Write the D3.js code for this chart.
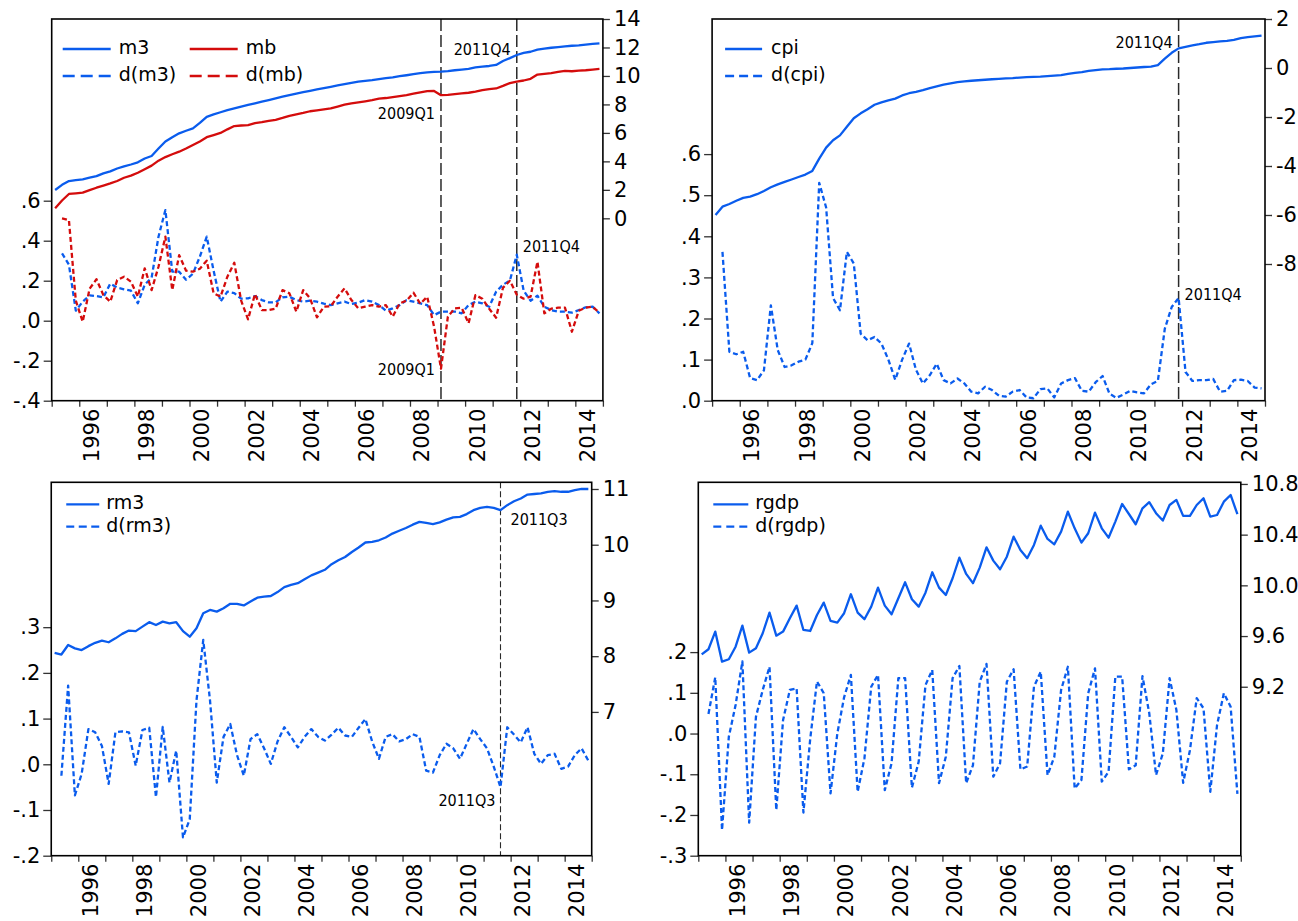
<!DOCTYPE html>
<html>
<head>
<meta charset="utf-8">
<script src="https://cdn.jsdelivr.net/npm/d3@7"></script>
<style>
  body { margin: 0; background: #fff; }
  svg { display: block; background: #fff; }
  .tick text { font-family: "DejaVu Sans", Verdana, sans-serif; fill: #000; }
  .legend text { font-family: "DejaVu Sans", Verdana, sans-serif; fill: #000; }
  .marker-label { font-family: "DejaVu Sans Condensed", "DejaVu Sans", sans-serif; fill: #000; }
</style>
</head>
<body>
<svg id="chart" width="1298" height="921"></svg>
<script>
// quarterly data, 1995Q1 .. 2014Q4 (80 quarters); d(...) series start in 1995Q2
const startYear = 1995;
const tickYears = [1995, 1996, 1997, 1998, 1999, 2000, 2001, 2002, 2003, 2004, 2005,
                   2006, 2007, 2008, 2009, 2010, 2011, 2012, 2013, 2014, 2015];
const labelYears = [1996, 1998, 2000, 2002, 2004, 2006, 2008, 2010, 2012, 2014];

const m3 = [1.99, 2.35, 2.62, 2.68, 2.74, 2.85, 2.96, 3.16, 3.30, 3.50,
            3.65, 3.78, 3.93, 4.20, 4.38, 4.90, 5.40, 5.70, 5.97, 6.15,
            6.32, 6.70, 7.13, 7.30, 7.45, 7.60, 7.72, 7.85, 7.96, 8.08,
            8.20, 8.31, 8.43, 8.55, 8.66, 8.76, 8.86, 8.96, 9.05, 9.15,
            9.24, 9.33, 9.42, 9.52, 9.60, 9.66, 9.71, 9.78, 9.84, 9.90,
            9.98, 10.05, 10.13, 10.20, 10.25, 10.28, 10.30, 10.34, 10.40, 10.45,
            10.50, 10.60, 10.65, 10.70, 10.77, 11.05, 11.25, 11.47, 11.62, 11.70,
            11.85, 11.92, 11.98, 12.03, 12.08, 12.12, 12.15, 12.20, 12.25, 12.29];
const mb = [0.70, 1.25, 1.71, 1.75, 1.80, 1.98, 2.15, 2.30, 2.45, 2.62,
            2.85, 3.00, 3.20, 3.45, 3.70, 4.05, 4.30, 4.50, 4.68, 4.90,
            5.15, 5.40, 5.70, 5.85, 6.00, 6.25, 6.48, 6.52, 6.55, 6.68,
            6.75, 6.85, 6.92, 7.05, 7.20, 7.30, 7.40, 7.52, 7.58, 7.65,
            7.72, 7.85, 7.98, 8.08, 8.15, 8.22, 8.30, 8.40, 8.45, 8.52,
            8.58, 8.65, 8.75, 8.85, 8.93, 8.95, 8.65, 8.67, 8.73, 8.77,
            8.82, 8.90, 9.00, 9.08, 9.12, 9.30, 9.50, 9.60, 9.68, 9.80,
            10.10, 10.15, 10.20, 10.28, 10.36, 10.33, 10.37, 10.40, 10.45, 10.49];
const dm3 = [null, .337, .28, .05, .095, .127, .123, .117, .185, .165,
             .157, .15, .087, .18, .215, .42, .553, .245, .245, .205,
             .235, .32, .42, .25, .095, .145, .138, .11, .112, .123,
             .103, .092, .092, .117, .12, .103, .095, .10, .095, .085,
             .078, .087, .095, .083, .09, .103, .095, .078, .05, .062,
             .078, .103, .095, .087, .078, .028, .045, .045, .045, .037,
             .078, .095, .087, .07, .145, .18, .20, .33, .15, .10,
             .125, .07, .053, .045, .045, .04, .053, .067, .07, .037];
const dmb = [null, .512, .503, .10, -.005, .16, .207, .128, .095, .203,
             .22, .195, .12, .262, .153, .27, .42, .153, .328, .25,
             .245, .26, .30, .137, .12, .22, .29, .10, .007, .133,
             .053, .053, .06, .153, .137, .045, .153, .112, .017, .07,
             .072, .12, .162, .103, .062, .07, .078, .07, .078, .02,
             .087, .10, .14, .085, .12, -.03, -.24, .02, .062, .065,
             -.013, .128, .11, .06, .015, .165, .20, .13, .11, .12,
             .295, .037, .06, .065, .065, -.055, .05, .065, .07, .04];

const cpi = [-6.00, -5.66, -5.55, -5.42, -5.30, -5.25, -5.15, -5.02, -4.87, -4.75,
             -4.65, -4.55, -4.45, -4.35, -4.20, -3.70, -3.25, -2.95, -2.75, -2.40,
             -2.05, -1.85, -1.68, -1.50, -1.40, -1.32, -1.25, -1.12, -1.03, -0.97,
             -0.90, -0.82, -0.75, -0.68, -0.63, -0.58, -0.55, -0.52, -0.50, -0.48,
             -0.46, -0.44, -0.42, -0.41, -0.39, -0.37, -0.36, -0.35, -0.33, -0.31,
             -0.29, -0.24, -0.20, -0.17, -0.12, -0.09, -0.06, -0.05, -0.03, -0.02,
             0.00, 0.02, 0.04, 0.06, 0.12, 0.38, 0.62, 0.80, 0.86, 0.92,
             0.97, 1.03, 1.06, 1.09, 1.11, 1.15, 1.22, 1.26, 1.29, 1.32];
const dcpi = [null, .362, .119, .113, .119, .055, .05, .074, .232, .123,
              .082, .086, .095, .10, .14, .53, .47, .25, .22, .362,
              .334, .163, .147, .155, .139, .10, .051, .10, .139, .075,
              .042, .062, .09, .05, .042, .054, .042, .022, .018, .034,
              .026, .012, .01, .022, .026, .008, .006, .028, .03, .008,
              .042, .05, .055, .024, .022, .045, .06, .017, .007, .015,
              .024, .02, .018, .04, .048, .175, .228, .25, .07, .048,
              .05, .05, .053, .022, .024, .05, .051, .048, .032, .03];

const rm3 = [8.06, 8.03, 8.20, 8.14, 8.11, 8.18, 8.24, 8.28, 8.25, 8.32,
             8.40, 8.46, 8.45, 8.53, 8.61, 8.56, 8.62, 8.59, 8.61, 8.45,
             8.35, 8.50, 8.77, 8.83, 8.80, 8.86, 8.94, 8.94, 8.91, 8.98,
             9.05, 9.07, 9.08, 9.15, 9.24, 9.28, 9.31, 9.38, 9.45, 9.50,
             9.55, 9.65, 9.72, 9.78, 9.87, 9.95, 10.04, 10.05, 10.08, 10.13,
             10.20, 10.25, 10.30, 10.36, 10.41, 10.39, 10.37, 10.40, 10.45, 10.49,
             10.50, 10.55, 10.62, 10.66, 10.68, 10.66, 10.62, 10.71, 10.78, 10.83,
             10.90, 10.91, 10.92, 10.95, 10.96, 10.95, 10.95, 10.98, 11.00, 11.00];
const drm3 = [null, -.025, .172, -.068, -.021, .077, .07, .04, -.043, .07,
              .072, .07, -.003, .075, .08, -.072, .082, -.04, .03, -.16,
              -.12, .14, .272, .14, -.04, .06, .088, .02, -.025, .055,
              .066, .035, .001, .05, .081, .06, .037, .06, .077, .06,
              .052, .065, .08, .063, .06, .08, .099, .05, .012, .06,
              .066, .05, .055, .066, .06, -.014, -.018, .02, .045, .035,
              .012, .045, .077, .055, .035, -.005, -.05, .081, .065, .048,
              .081, .023, .001, .02, .023, -.01, -.005, .02, .035, .008];

const rgdp = [9.456, 9.496, 9.635, 9.398, 9.417, 9.516, 9.682, 9.469, 9.504, 9.622,
              9.785, 9.603, 9.635, 9.74, 9.84, 9.648, 9.64, 9.766, 9.864, 9.72,
              9.706, 9.78, 9.93, 9.785, 9.733, 9.832, 9.982, 9.84, 9.772, 9.898,
              10.024, 9.89, 9.832, 9.942, 10.103, 9.982, 9.924, 10.056, 10.219, 10.09,
              10.017, 10.14, 10.3, 10.195, 10.127, 10.226, 10.384, 10.279, 10.214, 10.319,
              10.471, 10.366, 10.324, 10.424, 10.581, 10.45, 10.337, 10.411, 10.574, 10.45,
              10.376, 10.503, 10.642, 10.563, 10.482, 10.608, 10.656, 10.569, 10.511, 10.634,
              10.674, 10.548, 10.548, 10.634, 10.687, 10.542, 10.555, 10.66, 10.713, 10.561];
const drgdp = [null, .048, .138, -.237, -.008, .07, .177, -.219, .041, .107,
               .164, -.188, .033, .107, .111, -.194, -.014, .128, .099, -.147,
               .0, .089, .144, -.143, -.061, .115, .144, -.139, -.073, .136,
               .136, -.133, -.069, .119, .156, -.122, -.057, .136, .166, -.122,
               -.078, .127, .171, -.106, -.073, .127, .158, -.088, -.081, .115,
               .152, -.102, -.057, .107, .164, -.135, -.114, .099, .16, -.118,
               -.094, .14, .14, -.088, -.078, .141, .05, -.102, -.049, .136,
               .058, -.121, -.041, .087, .062, -.143, .021, .099, .066, -.148];

// axis ticks per panel
const p1LeftTicks = [-0.4, -0.2, 0, 0.2, 0.4, 0.6];
const p1RightTicks = [0, 2, 4, 6, 8, 10, 12, 14];
const p2LeftTicks = [0, 0.1, 0.2, 0.3, 0.4, 0.5, 0.6];
const p2RightTicks = [-8, -6, -4, -2, 0, 2];
const p3LeftTicks = [-0.2, -0.1, 0, 0.1, 0.2, 0.3];
const p3RightTicks = [7, 8, 9, 10, 11];
const p4LeftTicks = [-0.3, -0.2, -0.1, 0, 0.1, 0.2];
const p4RightTicks = [9.2, 9.6, 10.0, 10.4, 10.8];

const BLUE = "#0a5ced";
const RED = "#d40c0c";

// d3.format uses the unicode minus; the original uses a plain hyphen
const asciiMinus = f => v => f(v).replace("\u2212", "-");
// ".6", "-.2", ".0" style like the original
const fracFormat = v => asciiMinus(d3.format(".1f"))(v).replace(/^(-?)0\./, "$1.");
const quarterLabel = i => `${startYear + Math.floor(i / 4)}Q${(i % 4) + 1}`;

class DualAxisPanel {
    constructor(_config, _series, _markers) {
        this.config = {
            parentElement: _config.parentElement,
            left: _config.left,
            top: _config.top,
            width: _config.width,
            height: _config.height,
            leftDomain: _config.leftDomain,
            rightDomain: _config.rightDomain,
            leftTicks: _config.leftTicks,
            rightTicks: _config.rightTicks,
            rightFormat: asciiMinus(_config.rightFormat || d3.format("d")),
            legend: _config.legend
        };
        this.series = _series;
        this.markers = _markers || [];
        this.initVis();
    }

    initVis() {
        let vis = this;
        const c = vis.config;
        vis.g = d3.select(c.parentElement).append("g")
            .attr("transform", `translate(${c.left},${c.top})`);

        vis.xScale = d3.scaleLinear()
            .domain([tickYears[0], tickYears[tickYears.length - 1]])
            .range([0, c.width]);
        vis.yLeft = d3.scaleLinear().domain(c.leftDomain).range([c.height, 0]);
        vis.yRight = d3.scaleLinear().domain(c.rightDomain).range([c.height, 0]);

        vis.renderVis();
    }

    qx(i) {
        return this.xScale(startYear + (i + 0.5) / 4);
    }

    renderVis() {
        let vis = this;
        const c = vis.config;

        // axes
        const xAxis = d3.axisBottom(vis.xScale)
            .tickValues(tickYears)
            .tickSize(6)
            .tickFormat(d => labelYears.includes(d) ? String(d) : "");
        const gx = vis.g.append("g")
            .attr("transform", `translate(0,${c.height})`)
            .call(xAxis);
        gx.selectAll(".tick text")
            .attr("transform", "rotate(-90)")
            .attr("text-anchor", "end")
            .attr("x", -8)
            .attr("y", 19)
            .attr("dy", 0)
            .style("font-size", "21px");

        const gl = vis.g.append("g")
            .call(d3.axisLeft(vis.yLeft).tickValues(c.leftTicks).tickSize(8).tickPadding(3).tickFormat(fracFormat));
        gl.selectAll(".tick text").style("font-size", "21px");

        const gr = vis.g.append("g")
            .attr("transform", `translate(${c.width},0)`)
            .call(d3.axisRight(vis.yRight).tickValues(c.rightTicks).tickSize(7).tickPadding(4).tickFormat(c.rightFormat));
        gr.selectAll(".tick text").style("font-size", "21px");

        [gx, gl, gr].forEach(a => {
            a.select(".domain").remove();
            a.selectAll(".tick line").attr("stroke", "#333").attr("stroke-width", 1.3);
        });

        // event markers
        vis.markers.forEach(m => {
            const x = vis.qx(m.quarter);
            vis.g.append("line")
                .attr("x1", x).attr("x2", x)
                .attr("y1", 0).attr("y2", c.height)
                .attr("stroke", "#2a2a2a")
                .attr("stroke-width", m.width)
                .attr("stroke-dasharray", m.dash);
        });

        // series
        vis.series.forEach(s => {
            const y = s.axis === "left" ? vis.yLeft : vis.yRight;
            const line = d3.line()
                .defined(d => d != null)
                .x((d, i) => vis.qx(i))
                .y(d => y(d));
            vis.g.append("path")
                .datum(s.values)
                .attr("fill", "none")
                .attr("stroke", s.color)
                .attr("stroke-width", 2.3)
                .attr("stroke-dasharray", s.dashed ? "5,3" : null)
                .attr("stroke-linejoin", "round")
                .attr("d", line);
        });

        // marker labels, anchored at the data point of the marked quarter
        vis.markers.forEach(m => {
            const x = vis.qx(m.quarter);
            m.labels.forEach(l => {
                const s = vis.series.find(d => d.name === l.series);
                const y = s.axis === "left" ? vis.yLeft : vis.yRight;
                vis.g.append("text")
                    .attr("class", "marker-label")
                    .attr("x", x + l.dx)
                    .attr("y", y(s.values[m.quarter]) + l.dy)
                    .attr("text-anchor", l.dx < 0 ? "end" : "start")
                    .style("font-size", "16px")
                    .text(quarterLabel(m.quarter));
            });
        });

        // legend
        const lg = c.legend;
        const legend = vis.g.append("g").attr("class", "legend");
        vis.series.forEach(s => {
            const col = s.col || 0;
            const ly = lg.rowY[s.row];
            const x0 = lg.colX[col];
            legend.append("line")
                .attr("x1", x0).attr("x2", x0 + lg.lineLen)
                .attr("y1", ly).attr("y2", ly)
                .attr("stroke", s.color)
                .attr("stroke-width", 2.3)
                .attr("stroke-dasharray", s.dashed ? lg.dash : null);
            legend.append("text")
                .attr("x", x0 + lg.lineLen + lg.gap)
                .attr("y", ly + 5)
                .style("font-size", "19px")
                .text(s.name);
        });

        // frame
        vis.g.append("rect")
            .attr("width", c.width).attr("height", c.height)
            .attr("fill", "none")
            .attr("stroke", "#000")
            .attr("stroke-width", 1.6);
    }
}

new DualAxisPanel({
    parentElement: "#chart", left: 51.7, top: 19, width: 551.2, height: 381.7,
    leftDomain: [-0.4, 1.5085], rightDomain: [-12.81, 14],
    leftTicks: p1LeftTicks, rightTicks: p1RightTicks,
    legend: { colX: [11, 138], rowY: [30, 57], lineLen: 48, gap: 8, dash: "12,6" }
}, [
    { name: "m3", values: m3, axis: "right", color: BLUE, row: 0, col: 0 },
    { name: "mb", values: mb, axis: "right", color: RED, row: 0, col: 1 },
    { name: "d(m3)", values: dm3, axis: "left", color: BLUE, dashed: true, row: 1, col: 0 },
    { name: "d(mb)", values: dmb, axis: "left", color: RED, dashed: true, row: 1, col: 1 }
], [
    { quarter: 56, dash: "12,4", width: 1.5,
      labels: [{ series: "mb", dx: -6, dy: 24 }, { series: "d(mb)", dx: -6, dy: 6 }] },
    { quarter: 67, dash: "12,4", width: 1.5,
      labels: [{ series: "m3", dx: -6, dy: 0 }, { series: "d(m3)", dx: 6, dy: -3 }] }
]);

new DualAxisPanel({
    parentElement: "#chart", left: 712.1, top: 19, width: 552.9, height: 381.7,
    leftDomain: [0, 0.9287], rightDomain: [-13.58, 2],
    leftTicks: p2LeftTicks, rightTicks: p2RightTicks,
    legend: { colX: [13], rowY: [30, 57], lineLen: 37, gap: 9, dash: "9,5" }
}, [
    { name: "cpi", values: cpi, axis: "right", color: BLUE, row: 0 },
    { name: "d(cpi)", values: dcpi, axis: "left", color: BLUE, dashed: true, row: 1 }
], [
    { quarter: 67, dash: "12,4", width: 1.5,
      labels: [{ series: "cpi", dx: -6, dy: 0 }, { series: "d(cpi)", dx: 6, dy: 2 }] }
]);

new DualAxisPanel({
    parentElement: "#chart", left: 51.25, top: 482.3, width: 540.45, height: 373.4,
    leftDomain: [-0.2, 0.617], rightDomain: [4.42, 11.12],
    leftTicks: p3LeftTicks, rightTicks: p3RightTicks,
    legend: { colX: [15], rowY: [22, 44.4], lineLen: 33, gap: 7, dash: "8,4.5" }
}, [
    { name: "rm3", values: rm3, axis: "right", color: BLUE, row: 0 },
    { name: "d(rm3)", values: drm3, axis: "left", color: BLUE, dashed: true, row: 1 }
], [
    { quarter: 66, dash: "6,3", width: 1.1,
      labels: [{ series: "rm3", dx: 10, dy: 15 }, { series: "d(rm3)", dx: -5, dy: 19 }] }
]);

new DualAxisPanel({
    parentElement: "#chart", left: 698.3, top: 482.3, width: 542.5, height: 373.4,
    leftDomain: [-0.3, 0.617], rightDomain: [7.867, 10.813],
    leftTicks: p4LeftTicks, rightTicks: p4RightTicks,
    rightFormat: d3.format(".1f"),
    legend: { colX: [15], rowY: [22, 44.4], lineLen: 35, gap: 7, dash: "8,5" }
}, [
    { name: "rgdp", values: rgdp, axis: "right", color: BLUE, row: 0 },
    { name: "d(rgdp)", values: drgdp, axis: "left", color: BLUE, dashed: true, row: 1 }
], []);
</script>
</body>
</html>
